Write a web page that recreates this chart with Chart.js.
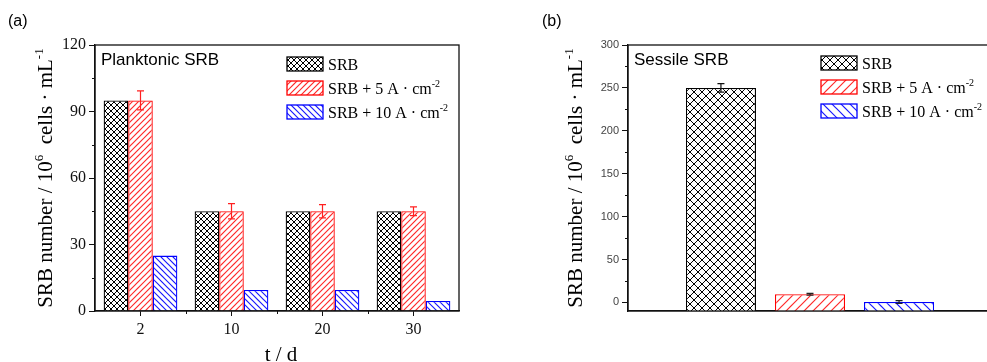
<!DOCTYPE html>
<html>
<head>
<meta charset="utf-8">
<script src="https://cdn.jsdelivr.net/npm/chart.js@4.4.1/dist/chart.umd.min.js"></script>
<style>
  html, body { margin: 0; padding: 0; background: #fff; overflow: hidden; width: 987px; height: 362px; }
  #wrapA { position: absolute; left: 0; top: 0; }
  #wrapB { position: absolute; left: 530px; top: 0; }
</style>
</head>
<body>
<div id="wrapA"><canvas id="chartA" width="490" height="362"></canvas></div>
<div id="wrapB"><canvas id="chartB" width="470" height="362"></canvas></div>
<script>
// (a) planktonic SRB, per day
const days = ['2', '10', '20', '30'];
const planktonicSRB = [95, 45, 45, 45];
const planktonic5A = [95, 45, 45, 45];
const planktonic10A = [25, 9.5, 9.5, 4.5];
const planktonic5AErr = [4.3, 3.4, 3.0, 2.0];
const yTicksA = [0, 30, 60, 90, 120];
const yMinorA = [15, 45, 75, 105];

// (b) sessile SRB
const sessileLabels = [''];
const sessileSRB = [250];
const sessile5A = [9.5];
const sessile10A = [0.5];
const sessileSRBErr = [5];
const sessile5AErr = [1];
const sessile10AErr = [1.5];
const yTicksB = [0, 50, 100, 150, 200, 250, 300];
const yMinorB = [25, 75, 125, 175, 225, 275];

const seriesNames = ['SRB', 'SRB + 5 A \u00b7 cm', 'SRB + 10 A \u00b7 cm'];
const seriesSups = ['', '-2', '-2'];

const SERIF = '"Liberation Serif", "Times New Roman", serif';
const SANS = '"Liberation Sans", Arial, sans-serif';

// hatch fills (tile holds two periods so the seams stay clean)
function hatch(color, step, dirs, lw) {
    const size = step * 2;
    const c = document.createElement('canvas');
    c.width = c.height = size;
    const g = c.getContext('2d');
    g.fillStyle = '#fff';
    g.fillRect(0, 0, size, size);
    g.strokeStyle = color;
    g.lineWidth = lw;
    g.beginPath();
    for (let k = -2; k <= 4; k++) {
        const o = k * step;
        if (dirs.includes('/')) { g.moveTo(o - 2, size + 2); g.lineTo(o + size + 2, -2); }
        if (dirs.includes('\\')) { g.moveTo(o - 2, -2); g.lineTo(o + size + 2, size + 2); }
    }
    g.stroke();
    return g.createPattern(c, 'repeat');
}

function drawRich(ctx, parts, x, y, size, family, align) {
    const supSize = Math.round(size * 0.6);
    let w = 0;
    parts.forEach(p => {
        ctx.font = (p.sup ? supSize : size) + 'px ' + family;
        w += ctx.measureText(p.t).width;
    });
    let cx = align === 'center' ? x - w / 2 : x;
    parts.forEach(p => {
        ctx.font = (p.sup ? supSize : size) + 'px ' + family;
        ctx.fillText(p.t, cx, p.sup ? y - size * 0.42 : y);
        cx += ctx.measureText(p.t).width;
    });
}

const errorBars = {
    id: 'errorBars',
    afterDatasetsDraw(chart) {
        const ctx = chart.ctx, y = chart.scales.y;
        chart.data.datasets.forEach((ds, i) => {
            if (!ds.errors) return;
            chart.getDatasetMeta(i).data.forEach((bar, j) => {
                const v = ds.data[j], e = ds.errors[j];
                const top = y.getPixelForValue(v + e), bot = y.getPixelForValue(v - e);
                ctx.save();
                ctx.strokeStyle = ds.errorColor;
                ctx.lineWidth = 1.2;
                ctx.beginPath();
                ctx.moveTo(bar.x, top); ctx.lineTo(bar.x, bot);
                ctx.moveTo(bar.x - 3.5, top); ctx.lineTo(bar.x + 3.5, top);
                ctx.moveTo(bar.x - 3.5, bot); ctx.lineTo(bar.x + 3.5, bot);
                ctx.stroke();
                ctx.restore();
            });
        });
    }
};

// frame, minor ticks, titles, legend
function decor(cfg) {
    return {
        id: 'decor',
        afterDraw(chart) {
            const ctx = chart.ctx, a = chart.chartArea;
            const x = chart.scales.x, y = chart.scales.y;
            ctx.save();
            ctx.strokeStyle = '#111';
            ctx.lineWidth = 1.3;
            ctx.strokeRect(a.left, a.top, a.right - a.left, a.bottom - a.top);
            ctx.lineWidth = 1;
            ctx.beginPath();
            cfg.yMinor.forEach(v => {
                const py = Math.round(y.getPixelForValue(v)) + 0.5;
                ctx.moveTo(a.left - 3, py); ctx.lineTo(a.left, py);
            });
            if (cfg.xBoundaries) {
                for (let i = 0; i < x.ticks.length - 1; i++) {
                    const px = Math.round((x.getPixelForTick(i) + x.getPixelForTick(i + 1)) / 2) + 0.5;
                    ctx.moveTo(px, a.bottom); ctx.lineTo(px, a.bottom + 3);
                }
            }
            ctx.stroke();

            ctx.fillStyle = '#000';
            ctx.textBaseline = 'alphabetic';
            ctx.textAlign = 'left';
            ctx.font = '16px ' + SANS;
            ctx.fillText(cfg.tag, cfg.tagX, 26);
            ctx.font = '17px ' + SANS;
            ctx.fillText(cfg.heading, a.left + 6, 65);

            // legend
            const L = cfg.legend;
            chart.data.datasets.forEach((ds, i) => {
                const cy = L.y + i * 24;
                ctx.fillStyle = ds.backgroundColor;
                ctx.fillRect(L.x, cy - 7, 36, 14);
                ctx.strokeStyle = ds.borderColor;
                ctx.lineWidth = 1.3;
                ctx.strokeRect(L.x, cy - 7, 36, 14);
                ctx.fillStyle = '#000';
                drawRich(ctx, [{ t: seriesNames[i] }, { t: seriesSups[i], sup: true }], L.x + 41, cy + 6, 16, SERIF, 'left');
            });

            // y title
            ctx.save();
            ctx.translate(52, (a.top + a.bottom) / 2);
            ctx.rotate(-Math.PI / 2);
            drawRich(ctx, [
                { t: 'SRB number / 10' }, { t: '6', sup: true },
                { t: '  cells \u00b7 mL' }, { t: '-1', sup: true }
            ], 0, 0, 21, SERIF, 'center');
            ctx.restore();

            if (cfg.xTitle) {
                ctx.font = '21px ' + SERIF;
                ctx.textAlign = 'center';
                ctx.fillText(cfg.xTitle, (a.left + a.right) / 2 + 4, 361);
            }
            ctx.restore();
        }
    };
}

const patA = {
    black: hatch('#000', 6, '/\\', 1),
    red: hatch('#ff2a2a', 6, '/', 1.2),
    blue: hatch('#1a1aff', 6, '\\', 1.2)
};
const patB = {
    black: hatch('#000', 8, '/\\', 1),
    red: hatch('#ff2a2a', 9, '/', 1.2),
    blue: hatch('#1a1aff', 9, '\\', 1.2)
};

new Chart(document.getElementById('chartA'), {
    type: 'bar',
    data: {
        labels: days,
        datasets: [
            { label: seriesNames[0], data: planktonicSRB, backgroundColor: patA.black, borderColor: '#000', borderWidth: 1.3 },
            { label: seriesNames[1], data: planktonic5A, backgroundColor: patA.red, borderColor: '#ff0000', borderWidth: 1.3, errors: planktonic5AErr, errorColor: '#ff2020' },
            { label: seriesNames[2], data: planktonic10A, backgroundColor: patA.blue, borderColor: '#0000ff', borderWidth: 1.3 }
        ]
    },
    options: {
        responsive: false,
        animation: false,
        layout: { padding: { top: 45, right: 31, left: 0, bottom: 0 } },
        plugins: { legend: { display: false }, tooltip: { enabled: false } },
        datasets: { bar: { categoryPercentage: 0.81, barPercentage: 1 } },
        scales: {
            x: {
                afterFit: s => { s.height = 51; },
                grid: { drawOnChartArea: false, tickLength: 5, color: '#111', offset: false },
                border: { color: '#111', width: 1.3 },
                ticks: { font: { family: SERIF, size: 16 }, color: '#111', padding: 4, maxRotation: 0 }
            },
            y: {
                min: 0, max: 120,
                afterFit: s => { s.width = 95; },
                afterBuildTicks: s => { s.ticks = yTicksA.map(v => ({ value: v })); },
                grid: { drawOnChartArea: false, tickLength: 6, color: '#111' },
                border: { color: '#111', width: 1.3 },
                ticks: { font: { family: SERIF, size: 16 }, color: '#111', padding: 3 }
            }
        }
    },
    plugins: [errorBars, decor({
        tag: '(a)', tagX: 8, heading: 'Planktonic SRB', yMinor: yMinorA, xBoundaries: true,
        legend: { x: 287, y: 64 }, xTitle: 't / d'
    })]
});

new Chart(document.getElementById('chartB'), {
    type: 'bar',
    data: {
        labels: sessileLabels,
        datasets: [
            { label: seriesNames[0], data: sessileSRB, backgroundColor: patB.black, borderColor: '#000', borderWidth: 1.3, errors: sessileSRBErr, errorColor: '#111' },
            { label: seriesNames[1], data: sessile5A, backgroundColor: patB.red, borderColor: '#ff0000', borderWidth: 1.3, errors: sessile5AErr, errorColor: '#222' },
            { label: seriesNames[2], data: sessile10A, backgroundColor: patB.blue, borderColor: '#0000ff', borderWidth: 1.3, errors: sessile10AErr, errorColor: '#222' }
        ]
    },
    options: {
        responsive: false,
        animation: false,
        layout: { padding: { top: 45, right: 8, left: 0, bottom: 0 } },
        plugins: { legend: { display: false }, tooltip: { enabled: false } },
        datasets: { bar: { categoryPercentage: 0.734, barPercentage: 0.787, base: -10 } },
        scales: {
            x: {
                afterFit: s => { s.height = 51; },
                grid: { drawOnChartArea: false, drawTicks: false },
                border: { color: '#111', width: 1.3 },
                ticks: { display: false }
            },
            y: {
                min: -10, max: 300,
                afterFit: s => { s.width = 98; },
                afterBuildTicks: s => { s.ticks = yTicksB.map(v => ({ value: v })); },
                grid: { drawOnChartArea: false, tickLength: 6, color: '#111' },
                border: { color: '#111', width: 1.3 },
                ticks: { font: { family: SANS, size: 11 }, color: '#444', padding: 3 }
            }
        }
    },
    plugins: [errorBars, decor({
        tag: '(b)', tagX: 12, heading: 'Sessile SRB', yMinor: yMinorB, xBoundaries: false,
        legend: { x: 291, y: 63 }
    })]
});
</script>
</body>
</html>
